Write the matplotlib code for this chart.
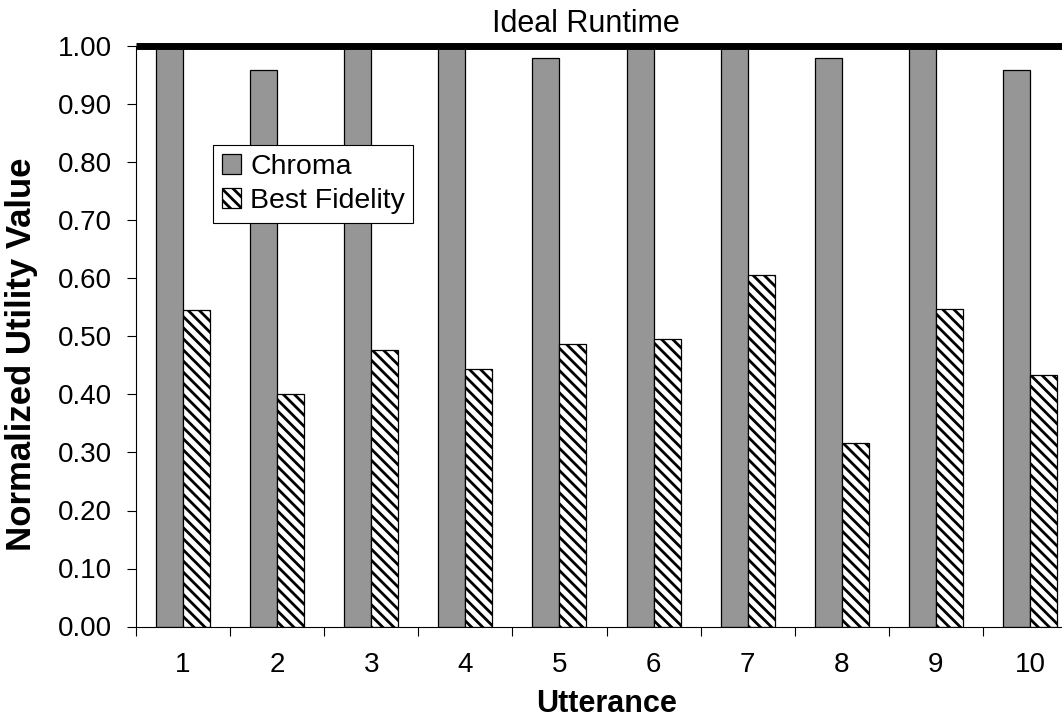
import numpy as np
import matplotlib
matplotlib.use('Agg')
from matplotlib import pyplot as plt
from matplotlib.ticker import FormatStrFormatter, FixedLocator

plt.rcParams['font.family'] = ['Liberation Sans', 'DejaVu Sans']
plt.rcParams['hatch.linewidth'] = 2.0
plt.rcParams['hatch.color'] = 'black'

utterances = ['1', '2', '3', '4', '5', '6', '7', '8', '9', '10']
chroma = [1.00, 0.96, 1.00, 1.00, 0.98, 1.00, 1.00, 0.98, 1.00, 0.96]
best_fidelity = [0.546, 0.401, 0.476, 0.444, 0.487, 0.496, 0.606, 0.316, 0.547, 0.433]
ideal = 1.0

W, H = 1062, 719
fig = plt.figure(figsize=(W / 100, H / 100), dpi=100)
# plot area runs a little past the right edge of the figure
ax = fig.add_axes([136 / W, (H - 626.5) / H, 941 / W, 580 / H])

x = np.arange(1, len(utterances) + 1)
bw = 0.287
ax.bar(x - bw / 2, chroma, bw, color='#969696', edgecolor='black',
       linewidth=0.9, label='Chroma')
ax.bar(x + bw / 2, best_fidelity, bw, color='white', edgecolor='black',
       linewidth=0.9, hatch='\\\\\\', label='Best Fidelity')

# ideal runtime reference line
ax.axhline(ideal, color='black', lw=5, clip_on=False, zorder=5,
           solid_capstyle='butt')
ax.text(0.4777, 1.025, 'Ideal Runtime', transform=ax.transAxes,
        ha='center', va='baseline', fontsize=22)

ax.set_xlim(0.5, len(utterances) + 0.5)
ax.set_ylim(0, 1)
ax.set_yticks(np.arange(0, 1.01, 0.1))
ax.yaxis.set_major_formatter(FormatStrFormatter('%.2f'))
ax.tick_params(axis='y', direction='out', length=6.5, width=0.8,
               pad=11, labelsize=20)

ax.set_xticks(x)
ax.set_xticklabels(utterances)
ax.xaxis.set_minor_locator(FixedLocator(np.arange(0.5, len(utterances) + 1, 1)))
ax.tick_params(axis='x', which='major', length=0, pad=18, labelsize=20)
ax.tick_params(axis='x', which='minor', direction='out', length=6.5, width=0.8)

for s in ['top', 'right']:
    ax.spines[s].set_visible(False)
ax.spines['left'].set_linewidth(0.8)
ax.spines['bottom'].set_linewidth(0.8)

ax.set_xlabel('Utterance', fontsize=22, fontweight='bold')
ax.xaxis.set_label_coords(0.5, -0.108)
fig.text(22 / W, 1 - 354 / H, 'Normalized Utility Value', rotation=90,
         ha='center', va='center', fontsize=25, fontweight='bold')

leg = ax.legend(loc='upper left', bbox_to_anchor=(213 / W, 1 - 145 / H),
                bbox_transform=fig.transFigure, borderaxespad=0,
                fontsize=20.5, frameon=True, fancybox=False, framealpha=1,
                edgecolor='black', handlelength=0.7, handleheight=0.7,
                handletextpad=0.3, labelspacing=0.3, borderpad=0.3)
leg.get_frame().set_linewidth(0.8)

fig.savefig('out.png', dpi=100)
